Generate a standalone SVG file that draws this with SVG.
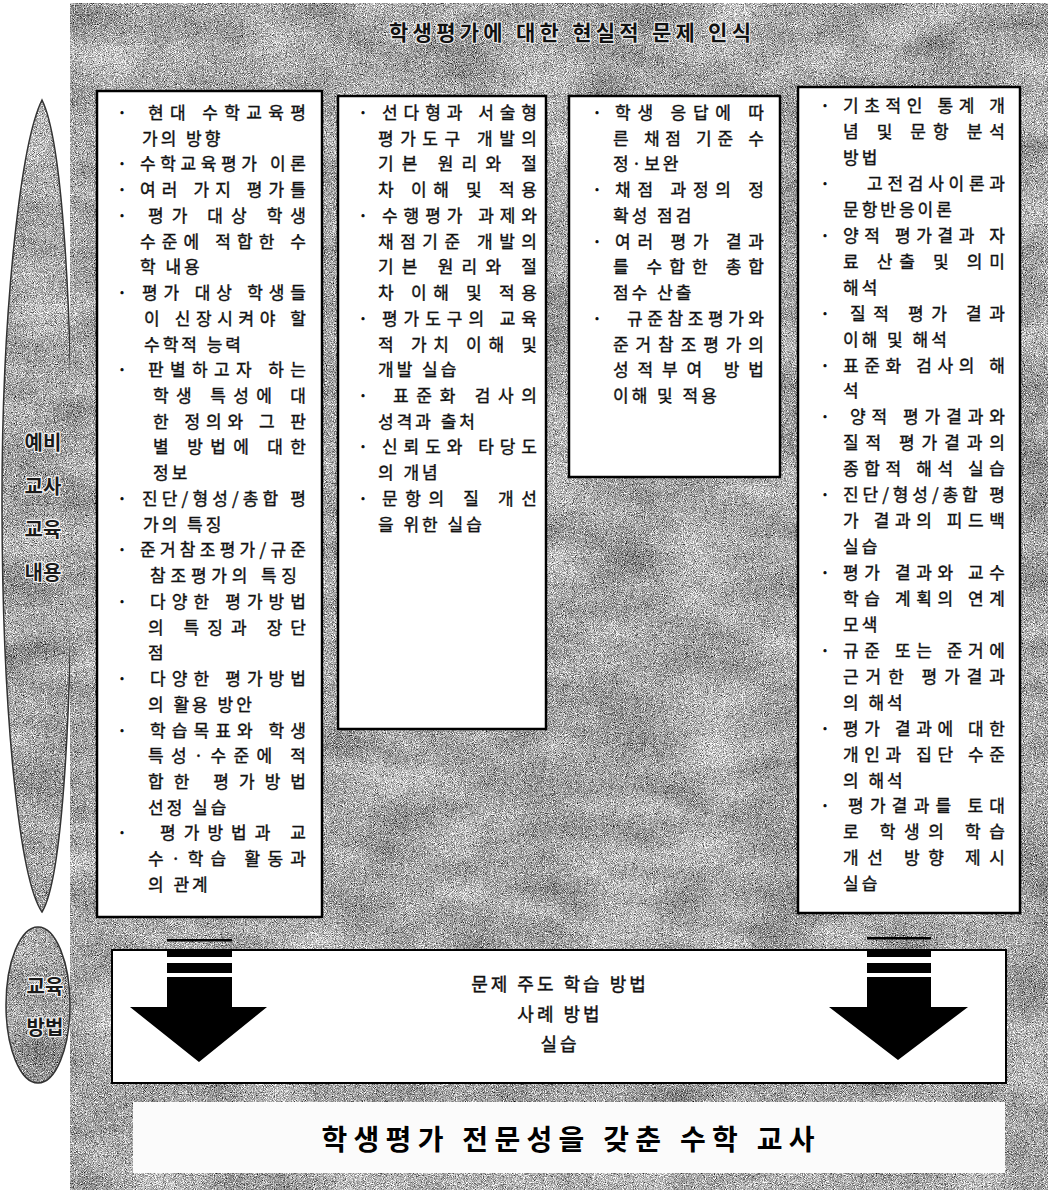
<svg xmlns="http://www.w3.org/2000/svg" width="1048" height="1190" viewBox="0 0 1048 1190">
<defs>
<filter id="grain" x="0" y="0" width="1" height="1" color-interpolation-filters="sRGB">
<feTurbulence type="fractalNoise" baseFrequency="1.1" numOctaves="2" seed="7" result="n"/>
<feColorMatrix in="n" type="matrix" values="0.33 0.33 0.33 0 0 0.33 0.33 0.33 0 0 0.33 0.33 0.33 0 0 0 0 0 0 1" result="g"/>
<feTurbulence type="fractalNoise" baseFrequency="0.012 0.025" numOctaves="3" seed="3" result="n2"/>
<feColorMatrix in="n2" type="matrix" values="0.33 0.33 0.33 0 0 0.33 0.33 0.33 0 0 0.33 0.33 0.33 0 0 0 0 0 0 1" result="g2"/>
<feComposite in="g" in2="g2" operator="arithmetic" k1="0" k2="2.6" k3="0.6" k4="-0.93" result="m"/>
<feComposite in="m" in2="SourceAlpha" operator="in"/>
</filter>
<style>
.t{font-family:"Noto Sans CJK KR","Noto Sans",sans-serif;font-size:17px;fill:#111;stroke:#111;stroke-width:0.4px;letter-spacing:3px}
.b{font-family:"Noto Sans CJK KR","Noto Sans",sans-serif;font-size:17px;font-weight:bold;fill:#111}
.box{fill:#fff;stroke:#000;stroke-width:2.5}
.lbl{font-family:"Noto Sans CJK KR","Noto Sans",sans-serif;font-size:20px;font-weight:bold;fill:#1a1a1a;stroke:#f4f4f4;stroke-width:2.5;paint-order:stroke;text-anchor:middle}
.mt{font-family:"Noto Sans CJK KR","Noto Sans",sans-serif;font-size:18px;fill:#111;stroke:#111;stroke-width:0.4px;letter-spacing:3px;text-anchor:middle}
.ar{fill:#000}
</style>
</defs>

<g id="background">
<path d="M42,100 C22,140 2,300 2,500 C2,720 20,880 42,912 C62,880 72,720 72,500 C72,300 62,140 42,100 Z" fill="#aaa" filter="url(#grain)"/>
<path d="M42,100 C22,140 2,300 2,500 C2,720 20,880 42,912 C62,880 72,720 72,500 C72,300 62,140 42,100 Z" fill="none" stroke="#333" stroke-width="1.5"/>
<rect x="70" y="3" width="978" height="1187" fill="#a6a6a6" filter="url(#grain)"/>
</g>

<g id="title">
<text x="570" y="40" text-anchor="middle" textLength="362" font-family="Noto Sans CJK KR, sans-serif" font-size="21" font-weight="bold" fill="#111" stroke="#e8e8e8" stroke-width="2.5" paint-order="stroke">학생평가에 대한 현실적 문제 인식</text>
</g>

<g id="label-content">
<text class="lbl" x="43" y="450">예비</text>
<text class="lbl" x="43" y="494">교사</text>
<text class="lbl" x="43" y="537">교육</text>
<text class="lbl" x="43" y="580">내용</text>
</g>

<g id="label-method">
<ellipse cx="38" cy="1005" rx="32" ry="78" fill="#aaa" filter="url(#grain)"/>
<ellipse cx="38" cy="1005" rx="32" ry="78" fill="none" stroke="#333" stroke-width="1.5"/>
<text class="lbl" x="45" y="994">교육</text>
<text class="lbl" x="45" y="1035">방법</text>
</g>

<g id="box1">
<rect class="box" x="97" y="91" width="225" height="826"/>
<text class="b" x="117" y="119">·</text><text class="t" x="148" y="119" textLength="161">현대 수학교육평</text>
<text class="t" x="142" y="145">가의 방향</text>
<text class="b" x="117" y="170">·</text><text class="t" x="140" y="170" textLength="169">수학교육평가 이론</text>
<text class="b" x="117" y="196">·</text><text class="t" x="140" y="196" textLength="169">여러 가지 평가틀</text>
<text class="b" x="117" y="222">·</text><text class="t" x="148" y="222" textLength="161">평가 대상 학생</text>
<text class="t" x="140" y="248" textLength="169">수준에 적합한 수</text>
<text class="t" x="140" y="273">학 내용</text>
<text class="b" x="117" y="299">·</text><text class="t" x="142" y="299" textLength="167">평가 대상 학생들</text>
<text class="t" x="144" y="325" textLength="165">이 신장시켜야 할</text>
<text class="t" x="144" y="351">수학적 능력</text>
<text class="b" x="117" y="376">·</text><text class="t" x="148" y="376" textLength="161">판별하고자 하는</text>
<text class="t" x="153" y="402" textLength="156">학생 특성에 대</text>
<text class="t" x="153" y="428" textLength="156">한 정의와 그 판</text>
<text class="t" x="153" y="453" textLength="156">별 방법에 대한</text>
<text class="t" x="153" y="479">정보</text>
<text class="b" x="117" y="505">·</text><text class="t" x="142" y="505" textLength="167">진단/형성/총합 평</text>
<text class="t" x="143" y="531">가의 특징</text>
<text class="b" x="117" y="556">·</text><text class="t" x="140" y="556" textLength="169">준거참조평가/규준</text>
<text class="t" x="150" y="582" textLength="150">참조평가의 특징</text>
<text class="b" x="117" y="608">·</text><text class="t" x="150" y="608" textLength="159">다양한 평가방법</text>
<text class="t" x="148" y="634" textLength="161">의 특징과 장단</text>
<text class="t" x="148" y="659">점</text>
<text class="b" x="117" y="685">·</text><text class="t" x="150" y="685" textLength="159">다양한 평가방법</text>
<text class="t" x="148" y="711">의 활용 방안</text>
<text class="b" x="117" y="737">·</text><text class="t" x="150" y="737" textLength="159">학습목표와 학생</text>
<text class="t" x="148" y="762" textLength="161">특성·수준에 적</text>
<text class="t" x="148" y="788" textLength="161">합한 평가방법</text>
<text class="t" x="148" y="814">선정 실습</text>
<text class="b" x="117" y="839">·</text><text class="t" x="160" y="839" textLength="149">평가방법과 교</text>
<text class="t" x="148" y="865" textLength="161">수·학습 활동과</text>
<text class="t" x="148" y="891">의 관계</text>
</g>

<g id="box2">
<rect class="box" x="338" y="96" width="208" height="633"/>
<text class="b" x="358" y="119">·</text><text class="t" x="382" y="119" textLength="158">선다형과 서술형</text>
<text class="t" x="378" y="145" textLength="162">평가도구 개발의</text>
<text class="t" x="378" y="170" textLength="162">기본 원리와 절</text>
<text class="t" x="378" y="196" textLength="162">차 이해 및 적용</text>
<text class="b" x="358" y="222">·</text><text class="t" x="382" y="222" textLength="158">수행평가 과제와</text>
<text class="t" x="378" y="248" textLength="162">채점기준 개발의</text>
<text class="t" x="378" y="273" textLength="162">기본 원리와 절</text>
<text class="t" x="378" y="299" textLength="162">차 이해 및 적용</text>
<text class="b" x="358" y="325">·</text><text class="t" x="382" y="325" textLength="158">평가도구의 교육</text>
<text class="t" x="378" y="351" textLength="162">적 가치 이해 및</text>
<text class="t" x="378" y="376">개발 실습</text>
<text class="b" x="358" y="402">·</text><text class="t" x="393" y="402" textLength="147">표준화 검사의</text>
<text class="t" x="378" y="428">성격과 출처</text>
<text class="b" x="358" y="453">·</text><text class="t" x="382" y="453" textLength="158">신뢰도와 타당도</text>
<text class="t" x="378" y="479">의 개념</text>
<text class="b" x="358" y="505">·</text><text class="t" x="382" y="505" textLength="158">문항의 질 개선</text>
<text class="t" x="378" y="531">을 위한 실습</text>
</g>

<g id="box3">
<rect class="box" x="569" y="96" width="211" height="381"/>
<text class="b" x="592" y="119">·</text><text class="t" x="615" y="119" textLength="152">학생 응답에 따</text>
<text class="t" x="613" y="145" textLength="154">른 채점 기준 수</text>
<text class="t" x="613" y="170">정·보완</text>
<text class="b" x="592" y="196">·</text><text class="t" x="615" y="196" textLength="152">채점 과정의 정</text>
<text class="t" x="613" y="222">확성 점검</text>
<text class="b" x="592" y="248">·</text><text class="t" x="615" y="248" textLength="152">여러 평가 결과</text>
<text class="t" x="613" y="273" textLength="154">를 수합한 총합</text>
<text class="t" x="613" y="299">점수 산출</text>
<text class="b" x="592" y="325">·</text><text class="t" x="627" y="325" textLength="140">규준참조평가와</text>
<text class="t" x="613" y="351" textLength="154">준거참조평가의</text>
<text class="t" x="613" y="376" textLength="154">성적부여 방법</text>
<text class="t" x="613" y="402">이해 및 적용</text>
</g>

<g id="box4">
<rect class="box" x="798" y="87" width="222" height="826"/>
<text class="b" x="820" y="112">·</text><text class="t" x="843" y="112" textLength="165">기초적인 통계 개</text>
<text class="t" x="843" y="138" textLength="165">념 및 문항 분석</text>
<text class="t" x="843" y="164">방법</text>
<text class="b" x="820" y="190">·</text><text class="t" x="867" y="190" textLength="141">고전검사이론과</text>
<text class="t" x="843" y="216">문항반응이론</text>
<text class="b" x="820" y="242">·</text><text class="t" x="843" y="242" textLength="165">양적 평가결과 자</text>
<text class="t" x="843" y="268" textLength="165">료 산출 및 의미</text>
<text class="t" x="843" y="294">해석</text>
<text class="b" x="820" y="320">·</text><text class="t" x="850" y="320" textLength="158">질적 평가 결과</text>
<text class="t" x="843" y="346">이해 및 해석</text>
<text class="b" x="820" y="372">·</text><text class="t" x="843" y="372" textLength="165">표준화 검사의 해</text>
<text class="t" x="843" y="397">석</text>
<text class="b" x="820" y="423">·</text><text class="t" x="850" y="423" textLength="158">양적 평가결과와</text>
<text class="t" x="843" y="449" textLength="165">질적 평가결과의</text>
<text class="t" x="843" y="475" textLength="165">종합적 해석 실습</text>
<text class="b" x="820" y="501">·</text><text class="t" x="843" y="501" textLength="165">진단/형성/총합 평</text>
<text class="t" x="843" y="527" textLength="165">가 결과의 피드백</text>
<text class="t" x="843" y="553">실습</text>
<text class="b" x="820" y="579">·</text><text class="t" x="843" y="579" textLength="165">평가 결과와 교수</text>
<text class="t" x="843" y="605" textLength="165">학습 계획의 연계</text>
<text class="t" x="843" y="631">모색</text>
<text class="b" x="820" y="657">·</text><text class="t" x="843" y="657" textLength="165">규준 또는 준거에</text>
<text class="t" x="843" y="683" textLength="165">근거한 평가결과</text>
<text class="t" x="843" y="709">의 해석</text>
<text class="b" x="820" y="735">·</text><text class="t" x="843" y="735" textLength="165">평가 결과에 대한</text>
<text class="t" x="843" y="761" textLength="165">개인과 집단 수준</text>
<text class="t" x="843" y="787">의 해석</text>
<text class="b" x="820" y="812">·</text><text class="t" x="848" y="812" textLength="160">평가결과를 토대</text>
<text class="t" x="843" y="838" textLength="165">로 학생의 학습</text>
<text class="t" x="843" y="864" textLength="165">개선 방향 제시</text>
<text class="t" x="843" y="890">실습</text>
</g>

<g id="methods">
<rect x="112" y="950" width="894" height="133" fill="#fff" stroke="#000" stroke-width="2"/>
<text class="mt" x="560" y="991">문제 주도 학습 방법</text>
<text class="mt" x="560" y="1021">사례 방법</text>
<text class="mt" x="560" y="1051">실습</text>
</g>

<g id="result">
<rect x="133" y="1102" width="872" height="71" fill="#fbfbfb"/>
<text x="568" y="1150" text-anchor="middle" textLength="493" font-family="Noto Sans CJK KR, sans-serif" font-size="28" font-weight="bold" fill="#000">학생평가 전문성을 갖춘 수학 교사</text>
</g>

<g id="connectors">
<g class="ar">
<rect x="167" y="939" width="65" height="2.5"/>
<rect x="167" y="951" width="65" height="6"/>
<rect x="167" y="963" width="65" height="10"/>
<polygon points="167,977 232,977 232,1007 267,1007 199,1062 130,1007 167,1007"/>
</g>
<g class="ar">
<rect x="867" y="937" width="64" height="2.5"/>
<rect x="867" y="951" width="64" height="6"/>
<rect x="867" y="963" width="64" height="10"/>
<polygon points="867,977 931,977 931,1007 968,1007 898,1060 829,1007 867,1007"/>
</g>
</g>
</svg>
